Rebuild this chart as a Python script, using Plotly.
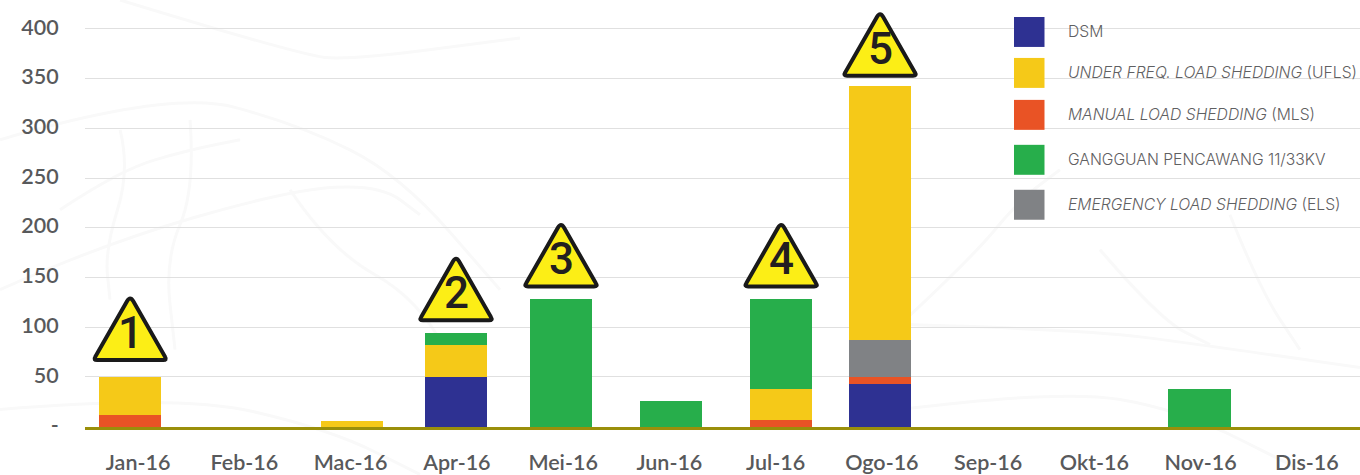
import plotly.graph_objects as go

months = ["Jan-16", "Feb-16", "Mac-16", "Apr-16", "Mei-16", "Jun-16", "Jul-16", "Ogo-16", "Sep-16", "Okt-16", "Nov-16", "Dis-16"]
dsm = [0, 0, 0, 50, 0, 0, 0, 43, 0, 0, 0, 0]
mls = [12, 0, 0, 0, 0, 0, 7, 7, 0, 0, 0, 0]
els = [0, 0, 0, 0, 0, 0, 0, 37, 0, 0, 0, 0]
ufls = [38, 0, 6, 32, 0, 0, 31, 256, 0, 0, 0, 0]
gangguan = [0, 0, 0, 12, 128, 26, 90, 0, 0, 0, 38, 0]

# the printed bars sit slightly off their category centres
bar_nudge = [-0.075, 0, 0.015, -0.008, -0.02, 0.018, 0.052, -0.017, 0, 0, -0.011, 0]
bar_width = 0.585

y_ticks = [0, 50, 100, 150, 200, 250, 300, 350, 400]
y_labels = ["-", "50", "100", "150", "200", "250", "300", "350", "400"]

warning_index = [0, 3, 4, 6, 7]
warning_levels = [65, 105, 139, 139, 351]
warning_labels = ["1", "2", "3", "4", "5"]

legend_names = [
    "DSM",
    "<i>UNDER FREQ. LOAD SHEDDING</i> (UFLS)",
    "<i>MANUAL LOAD SHEDDING</i> (MLS)",
    "GANGGUAN PENCAWANG 11/33KV",
    "<i>EMERGENCY LOAD SHEDDING</i> (ELS)",
]
legend_colors = ["#2e3192", "#f5c918", "#e95325", "#27ae4b", "#808285"]

TEXT = "#58595b"
PLOT_W = 1275
PLOT_L = 85
PLOT_H = 427.5
PX_PER_UNIT = 0.9955
ZERO_PAD = 0.3

# faint leaf-vein watermark behind the chart, in page pixels
veins = [
    [(0, 140), (170, 90), (300, 125), (400, 175), (500, 290)],
    [(0, 290), (100, 245), (290, 190), (380, 185), (420, 215)],
    [(120, 0), (300, 55), (350, 60), (520, 38)],
    [(290, 190), (330, 250), (420, 300), (470, 400)],
    [(60, 210), (120, 170), (190, 150), (240, 140)],
    [(120, 130), (130, 170), (105, 250), (110, 300)],
    [(190, 120), (195, 190), (165, 260), (175, 350)],
    [(900, 325), (970, 260), (1020, 200), (1060, 170)],
    [(905, 325), (1085, 330), (1200, 345), (1360, 368)],
    [(900, 410), (1060, 390), (1180, 410), (1300, 470)],
    [(1100, 250), (1160, 320), (1210, 345)],
    [(1230, 215), (1260, 290), (1300, 350)],
    [(0, 410), (180, 395), (330, 430), (420, 475)],
]


def px_point(x, y):
    return f"{(x - PLOT_L) / PLOT_W:.4f},{1 - y / PLOT_H:.4f}"


def vein_path(points):
    d = "M " + px_point(*points[0])
    for i in range(1, len(points) - 1):
        mx = (points[i][0] + points[i + 1][0]) / 2
        my = (points[i][1] + points[i + 1][1]) / 2
        d += " Q " + px_point(*points[i]) + " " + px_point(mx, my)
    d += " L " + px_point(*points[-1])
    return d


fig = go.Figure()
series = [
    (dsm, legend_colors[0]),
    (mls, legend_colors[2]),
    (els, legend_colors[4]),
    (ufls, legend_colors[1]),
    (gangguan, legend_colors[3]),
]
for vals, col in series:
    fig.add_trace(go.Bar(
        x=months, y=vals, width=bar_width,
        offset=[n - bar_width / 2 for n in bar_nudge],
        marker=dict(color=col, line=dict(width=0)),
        showlegend=False,
    ))

shapes = []
annotations = []
for pts in veins:
    shapes.append(dict(
        type="path", xref="paper", yref="paper", layer="below",
        path=vein_path(pts), line=dict(color="#f9f9f9", width=3),
    ))

# warning triangles: anchored to the data axes, sized in pixels (positive y is up)
TRIANGLE = "M -33,2 Q -37,2 -35,5 L -3,61 Q 0,66 3,61 L 35,5 Q 37,2 33,2 Z"
for idx, level, lab in zip(warning_index, warning_levels, warning_labels):
    cx = idx + bar_nudge[idx]
    shapes.append(dict(
        type="path", xref="x", yref="y", xsizemode="pixel", ysizemode="pixel",
        xanchor=cx, yanchor=level, layer="above", path=TRIANGLE,
        fillcolor="#fcee16", line=dict(color="#1a1a1a", width=4),
    ))
    annotations.append(dict(
        x=cx, y=level, xref="x", yref="y", text=lab, showarrow=False,
        yanchor="bottom", yshift=1, xanchor="center",
        font=dict(family="Roboto", size=44, color="#231f20", weight=500),
    ))

# legend, drawn by hand because its rows are unevenly spaced
legend_rows = [32, 73, 115, 160, 205]
for name, col, row in zip(legend_names, legend_colors, legend_rows):
    shapes.append(dict(
        type="rect", xref="paper", yref="paper", layer="above",
        x0=(1014 - PLOT_L) / PLOT_W, x1=(1044.5 - PLOT_L) / PLOT_W,
        y0=1 - (row + 15) / PLOT_H, y1=1 - (row - 15) / PLOT_H,
        fillcolor=col, line=dict(width=0),
    ))
    annotations.append(dict(
        x=(1066 - PLOT_L) / PLOT_W, y=1 - row / PLOT_H, xref="paper", yref="paper",
        text=name, showarrow=False, xanchor="left", yanchor="middle",
        font=dict(family="Inter", size=15.7, color="#5f6062", weight=300),
    ))

fig.update_layout(
    barmode="stack",
    width=1360, height=475,
    margin=dict(l=PLOT_L, r=0, t=0, b=475 - PLOT_H),
    paper_bgcolor="white", plot_bgcolor="rgba(0,0,0,0)",
    shapes=shapes, annotations=annotations,
    showlegend=False,
    xaxis=dict(
        type="category", categoryorder="array", categoryarray=months,
        range=[-0.5, 11.5], showgrid=False, showline=True, linecolor="#9a8f0a", linewidth=2.5,
        ticks="outside", ticklen=14, tickcolor="rgba(0,0,0,0)", automargin=False,
        tickfont=dict(family="Lato", size=21.5, color=TEXT, weight=600), tickangle=0,
    ),
    yaxis=dict(
        range=[-ZERO_PAD, (PLOT_H / PX_PER_UNIT) - ZERO_PAD],
        tickvals=y_ticks, ticktext=y_labels, showgrid=True,
        gridcolor="#e0e0e0", gridwidth=1.2, zeroline=False, showline=False,
        ticks="outside", ticklen=21, tickcolor="rgba(0,0,0,0)", ticklabelshift=-2, automargin=False,
        tickfont=dict(family="Lato", size=21.5, color=TEXT, weight=600),
    ),
)

fig.write_html("out.html", config=dict(displayModeBar=False), post_script="document.body.style.margin='0';")
